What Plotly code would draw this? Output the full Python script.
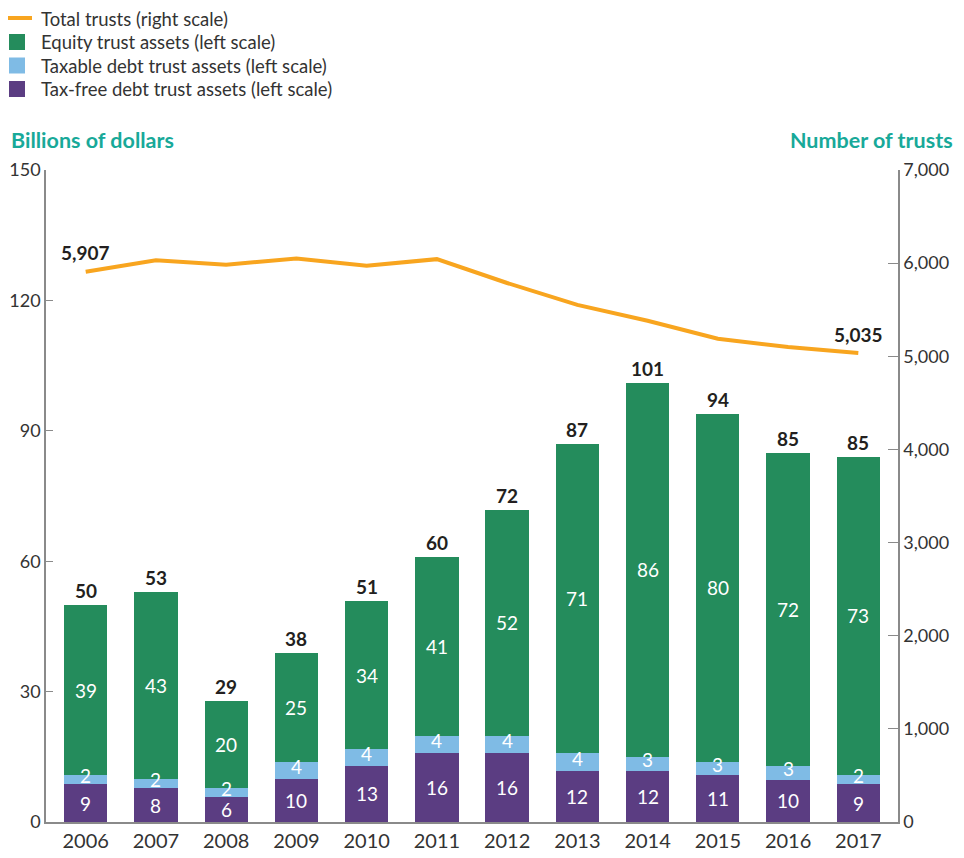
import plotly.graph_objects as go
from plotly.subplots import make_subplots

years = [str(y) for y in range(2006, 2018)]
tax_free = [8.7, 7.8, 5.75, 9.9, 12.9, 15.9, 15.9, 11.7, 11.7, 10.8, 9.7, 8.7]
taxable = [2.1, 2.1, 2.05, 3.9, 3.9, 3.9, 3.9, 4.2, 3.3, 3.0, 3.2, 2.1]
equity = [39.1, 43.0, 20.0, 25.1, 34.0, 41.2, 52.0, 71.1, 86.0, 80.1, 72.0, 73.2]
tax_free_labels = ["9", "8", "6", "10", "13", "16", "16", "12", "12", "11", "10", "9"]
taxable_labels = ["2", "2", "2", "4", "4", "4", "4", "4", "3", "3", "3", "2"]
equity_labels = ["39", "43", "20", "25", "34", "41", "52", "71", "86", "80", "72", "73"]
total_labels = ["50", "53", "29", "38", "51", "60", "72", "87", "101", "94", "85", "85"]
trusts = [5907, 6030, 5984, 6049, 5971, 6043, 5787, 5552, 5381, 5188, 5100, 5035]
trust_labels = ["5,907", "5,035"]
left_ticks = [0, 30, 60, 90, 120, 150]
right_ticks = [0, 1000, 2000, 3000, 4000, 5000, 6000, 7000]
legend_names = ["Total trusts (right scale)", "Equity trust assets (left scale)",
                "Taxable debt trust assets (left scale)", "Tax-free debt trust assets (left scale)"]

GREEN = "#248c5c"
LBLUE = "#7fbbe5"
PURPLE = "#5b3d82"
ORANGE = "#f8a51f"
TEAL = "#18a999"
AXIS = "#8a8a8a"
TXT = "#333333"
DARK = "#231f20"
FONT = "Lato"

# page offset introduced by the default body margin of the html page
OFF = 8
# plot area in reference pixels
L, R, T, B = 46, 898, 170, 822
W, H = R - L, B - T
FIG_W, FIG_H = 964 - OFF, 858 - OFF


def px(x):
    return (x - L) / W


def py(y):
    return (B - y) / H


fig = make_subplots(specs=[[{"secondary_y": True}]])

fig.add_trace(go.Bar(x=years, y=tax_free, name=legend_names[3],
                     marker=dict(color=PURPLE, line=dict(width=0))), secondary_y=False)
fig.add_trace(go.Bar(x=years, y=taxable, name=legend_names[2],
                     marker=dict(color=LBLUE, line=dict(width=0))), secondary_y=False)
fig.add_trace(go.Bar(x=years, y=equity, name=legend_names[1],
                     marker=dict(color=GREEN, line=dict(width=0))), secondary_y=False)
fig.add_trace(go.Scatter(x=years, y=trusts, name=legend_names[0], mode="lines",
                         line=dict(color=ORANGE, width=4)), secondary_y=True)

annotations = []
for i, yr in enumerate(years):
    a = tax_free[i]
    b = taxable[i]
    c = equity[i]
    for mid, lab, shift in ((a / 2, tax_free_labels[i], 0), (a + b / 2, taxable_labels[i], 4),
                            (a + b + c / 2, equity_labels[i], 0)):
        annotations.append(dict(x=i, y=mid, xref="x", yref="y", text=lab, showarrow=False, yshift=shift,
                                font=dict(family=FONT, size=19, color="white"), yanchor="middle"))
    annotations.append(dict(x=i, y=a + b + c, xref="x", yref="y", text="<b>%s</b>" % total_labels[i],
                            showarrow=False, yanchor="bottom", yshift=1,
                            font=dict(family=FONT, size=19, color=DARK)))

annotations.append(dict(x=0, y=trusts[0], xref="x", yref="y2", text="<b>%s</b>" % trust_labels[0],
                        showarrow=False, yanchor="bottom", yshift=6,
                        font=dict(family=FONT, size=19, color=DARK)))
annotations.append(dict(x=len(years) - 1, y=trusts[-1], xref="x", yref="y2",
                        text="<b>%s</b>" % trust_labels[1], showarrow=False, yanchor="bottom", yshift=5,
                        font=dict(family=FONT, size=19, color=DARK)))

annotations.append(dict(x=px(9), y=py(140), xref="paper", yref="paper", text="<b>Billions of dollars</b>",
                        showarrow=False, xanchor="left", yanchor="middle",
                        font=dict(family=FONT, size=21.5, color=TEAL)))
annotations.append(dict(x=px(955), y=py(140), xref="paper", yref="paper", text="<b>Number of trusts</b>",
                        showarrow=False, xanchor="right", yanchor="middle",
                        font=dict(family=FONT, size=21.5, color=TEAL)))

# custom legend
shapes = []
rows = [19, 42, 65.5, 89]
shapes.append(dict(type="line", xref="paper", yref="paper", x0=px(8), x1=px(32), y0=py(rows[0] - 1),
                   y1=py(rows[0] - 1), line=dict(color=ORANGE, width=4)))
for r, col in zip(rows[1:], [GREEN, LBLUE, PURPLE]):
    shapes.append(dict(type="rect", xref="paper", yref="paper", x0=px(9), x1=px(25), y0=py(r - 8),
                       y1=py(r + 8), fillcolor=col, line=dict(width=0)))
for r, name in zip(rows, legend_names):
    annotations.append(dict(x=px(39), y=py(r), xref="paper", yref="paper", text=name, showarrow=False,
                            xanchor="left", yanchor="middle",
                            font=dict(family=FONT, size=18.5, color=TXT)))

fig.update_layout(
    width=FIG_W, height=FIG_H,
    margin=dict(l=L - OFF, r=964 - R, t=T - OFF, b=858 - B, pad=0, autoexpand=False),
    barmode="stack", bargap=0.384,
    plot_bgcolor="white", paper_bgcolor="white",
    font=dict(family=FONT, size=18, color=TXT),
    showlegend=False,
    annotations=annotations,
    shapes=shapes,
)
fig.update_xaxes(type="category", domain=[0, 1], range=[-0.565, 11.565], showline=True, linecolor=AXIS,
                 linewidth=1.5, ticks="", showgrid=False, tickangle=0,
                 tickfont=dict(family=FONT, size=20, color=TXT))
fig.update_yaxes(range=[0, 150], tickvals=left_ticks, ticks="inside", ticklen=7, tickcolor=AXIS,
                 showline=True, linecolor=AXIS, linewidth=1.5, showgrid=False, zeroline=False,
                 tickfont=dict(family=FONT, size=18, color=TXT), secondary_y=False)
fig.update_yaxes(range=[0, 7000], tickvals=right_ticks, tickformat=",", ticks="inside", ticklen=10,
                 tickcolor=AXIS, showline=True, linecolor=AXIS, linewidth=1.5, showgrid=False,
                 zeroline=False, tickfont=dict(family=FONT, size=18, color=TXT), secondary_y=True)

fig.write_html("out.html")
